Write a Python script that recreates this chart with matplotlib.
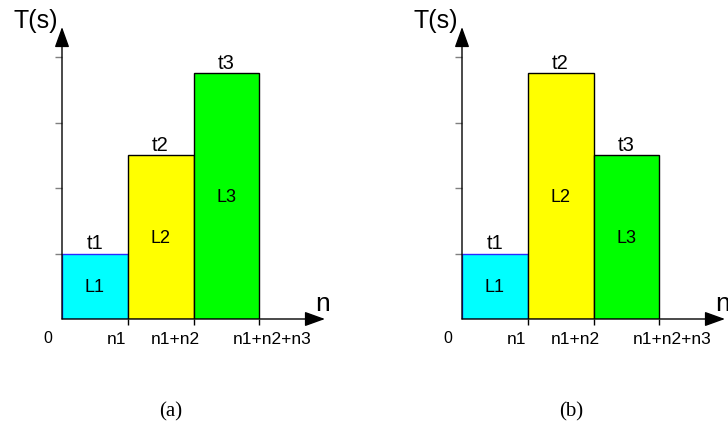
import numpy as np
import matplotlib
matplotlib.use('Agg')
import matplotlib.pyplot as plt

plt.rcParams['font.family'] = ['Liberation Sans', 'DejaVu Sans']

# segment lengths along n and the time for each segment
seg_names = ['L1', 'L2', 'L3']
time_names = ['t1', 't2', 't3']
seg_widths = [1.0, 1.0, 1.0]
heights_a = [1.0, 2.5, 3.75]
heights_b = [1.0, 3.75, 2.5]
fill_colors = ['#00ffff', '#ffff00', '#00ff00']
edge_colors = ['#2a2aff', 'black', 'black']
xtick_labels = ['n1', 'n1+n2', 'n1+n2+n3']
yticks = [1, 2, 3, 4]
panel_labels = ['(a)', '(b)']

# where each boundary label sits relative to its tick (as in the original drawing)
label_shift = [-0.17, -0.27, 0.2]

W, H = 728, 427
fig = plt.figure(figsize=(W / 100, H / 100), dpi=100)


def draw_panel(ax, heights, caption):
    lefts = np.concatenate([[0], np.cumsum(seg_widths)[:-1]])
    ax.bar(lefts, heights, width=seg_widths, align='edge', color=fill_colors,
           edgecolor=edge_colors, linewidth=1.0, zorder=2)
    for x0, w, h, sname, tname in zip(lefts, seg_widths, heights, seg_names, time_names):
        ax.text(x0 + w / 2, h + 0.02, tname, ha='center', va='bottom', fontsize=14.5)
        ax.text(x0 + w / 2, h / 2, sname, ha='center', va='center', fontsize=13)

    ax.set_xlim(0, 4)
    ax.set_ylim(0, 4.46)
    for s in ax.spines.values():
        s.set_visible(False)
    ax.patch.set_visible(False)

    # axes with arrow heads
    arrow = dict(arrowstyle='-|>,head_length=1.25,head_width=0.45', color='black',
                 lw=1.0, shrinkA=0, shrinkB=0, mutation_scale=10)
    ax.annotate('', xy=(0, 4.46), xytext=(0, 0), arrowprops=arrow, annotation_clip=False)
    ax.annotate('', xy=(4.0, 0), xytext=(0, 0), arrowprops=arrow, annotation_clip=False)

    ax.set_yticks(yticks)
    ax.set_yticklabels([])
    ax.tick_params(axis='y', length=5, width=1, color='#808080', direction='out')
    ticks_x = np.cumsum(seg_widths)
    ax.set_xticks(ticks_x)
    ax.set_xticklabels([])
    ax.tick_params(axis='x', length=4, width=1, color='black', direction='out')
    for tx, lab, dx in zip(ticks_x, xtick_labels, label_shift):
        ax.text(tx + dx, -0.305, lab, ha='center', va='center', fontsize=12.5)

    ax.text(-0.21, -0.28, '0', ha='center', va='center', fontsize=11.5)
    ax.text(-0.40, 4.56, 'T(s)', ha='center', va='center', fontsize=18)
    ax.text(3.97, 0.25, 'n', ha='center', va='center', fontsize=19, clip_on=False)
    ax.text(1.66, -1.40, caption, ha='center', va='center', fontsize=15,
            family='Liberation Serif')


ax_a = fig.add_axes([62 / W, 107 / H, 263 / W, 292 / H])
draw_panel(ax_a, heights_a, panel_labels[0])
ax_b = fig.add_axes([462 / W, 107 / H, 263 / W, 292 / H])
draw_panel(ax_b, heights_b, panel_labels[1])

fig.savefig('out.png', dpi=100)
